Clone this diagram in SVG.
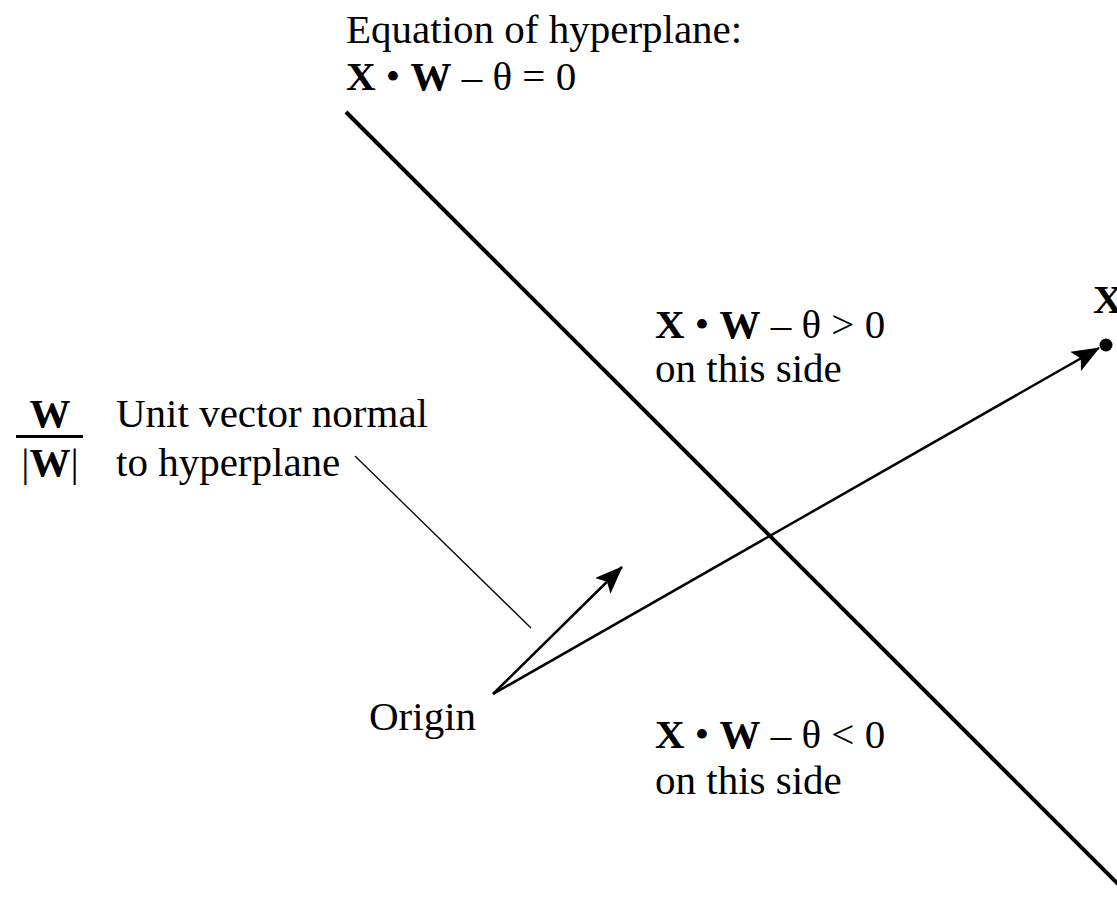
<svg xmlns="http://www.w3.org/2000/svg" width="1117" height="897" viewBox="0 0 1117 897">
<style>
text{font-family:"Liberation Serif","Times New Roman",serif;font-size:41px;fill:#000}
.b{font-weight:bold}
.plane{stroke:#000;stroke-width:4;fill:none}
.vec{stroke:#000;stroke-width:2.5;fill:none}
.lead{stroke:#000;stroke-width:1.3;fill:none}
</style>
<defs>
<marker id="ah" markerUnits="userSpaceOnUse" viewBox="0 0 28 22" refX="27" refY="11" markerWidth="28" markerHeight="22" orient="auto">
<path d="M0,0 L28,11 L0,22 L6,11 z" fill="#000"/>
</marker>
</defs>
<g id="hyperplane">
<line class="plane" x1="346" y1="112" x2="1122" y2="888"/>
</g>
<g id="eq-label">
<text x="346" y="43">Equation of hyperplane:</text>
<text x="346" y="90"><tspan class="b">X</tspan> • <tspan class="b">W</tspan> – θ = 0</text>
</g>
<g id="pos-side">
<text x="655" y="338"><tspan class="b">X</tspan> • <tspan class="b">W</tspan> – θ &gt; 0</text>
<text x="655" y="382">on this side</text>
</g>
<g id="neg-side">
<text x="655" y="748"><tspan class="b">X</tspan> • <tspan class="b">W</tspan> – θ &lt; 0</text>
<text x="655" y="794">on this side</text>
</g>
<g id="origin">
<text x="369" y="730">Origin</text>
</g>
<g id="point-x">
<text class="b" x="1093" y="313">X</text>
<circle cx="1106" cy="345" r="6.5" fill="#000"/>
</g>
<g id="unit-normal">
<text class="b" x="50" y="427" text-anchor="middle">W</text>
<line x1="16" y1="436.5" x2="83" y2="436.5" stroke="#000" stroke-width="3"/>
<text x="50" y="476" text-anchor="middle">|<tspan class="b">W</tspan>|</text>
<text x="116" y="427">Unit vector normal</text>
<text x="116" y="476">to hyperplane</text>
</g>
<g id="connectors">
<line class="vec" x1="493" y1="694" x2="1099" y2="348" marker-end="url(#ah)"/>
<line class="vec" x1="493" y1="694" x2="622" y2="567" marker-end="url(#ah)"/>
<line class="lead" x1="355" y1="456" x2="531" y2="628"/>
</g>
</svg>
